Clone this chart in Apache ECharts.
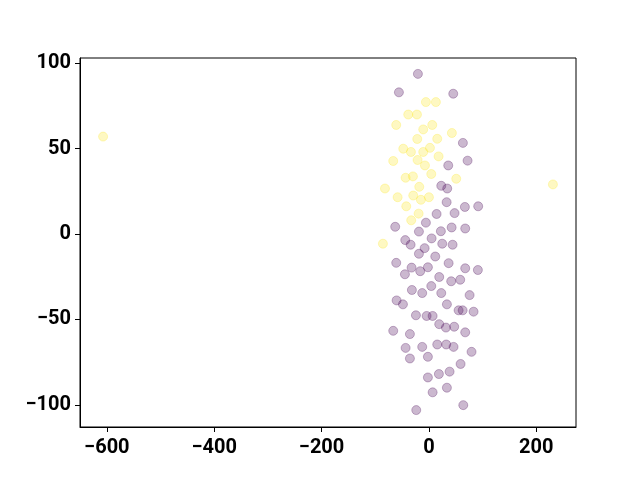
<!DOCTYPE html>
<html>
<head>
<meta charset="utf-8">
<script src="https://cdn.jsdelivr.net/npm/echarts@6/dist/echarts.min.js"></script>
<style>
    html, body {margin: 0; padding: 0; background: #fff;}
    #chart {width: 640px; height: 480px;}
</style>
</head>
<body>
<div id="chart"></div>
<script>
//tick labels
var xTicks = [-600, -400, -200, 0, 200];
var yTicks = [-100, -50, 0, 50, 100];

//points, [x, y]
var yellowPoints = [
    [-607, 57], [231, 29], [-5.6, 77.2], [13, 77.2], [-38.5, 69.9], [-22.3, 69.9],
    [-60.9, 63.8], [-10.6, 61.2], [6.2, 63.8], [42.8, 59.1], [-21.7, 55.6], [15.5, 55.7],
    [-47.8, 49.9], [-33.5, 48], [-10.6, 48], [1.9, 50.4], [-66.5, 42.7], [-21.1, 43.3],
    [18, 45.4], [-7.4, 40.1], [4.4, 35.1], [-43.4, 32.9], [-29.8, 33.7], [50.9, 32.3],
    [-81.9, 26.6], [-18, 27.6], [-58.3, 21.5], [-29.2, 22.5], [-14.9, 20], [0, 21.5],
    [-42.2, 16.2], [-19.2, 11.9], [-33, 8], [-85.7, -5.7]
];

var purplePoints = [
    [-20.5, 93.7], [-55.9, 82.9], [45.3, 82.1], [63.3, 53.3], [72, 42.9], [36, 40.1],
    [23, 28.2], [34.1, 26.6], [33, 18.6], [47.8, 12.2], [67, 15.8], [91.8, 16.2],
    [14.3, 11.7], [-5.6, 6.6], [-62.8, 4.2], [42.3, 3.8], [67.6, 3.2], [-18.6, 1.4],
    [22.3, 1.6], [-44.1, -3.6], [5, -2.6], [-34.1, -6.3], [24.8, -5.7], [44.1, -6.3],
    [-8, -8.3], [-18.6, -11.6], [11.8, -13.2], [-60.9, -16.9], [36.7, -17.1], [-32.3, -19.7],
    [-1.9, -19.5], [-16.2, -21.8], [-44.7, -23.6], [67.6, -20.1], [91.2, -21.1], [19.2, -25.2],
    [41.5, -27.7], [58.3, -26.8], [4.4, -30.5], [-31.7, -32.8], [-12.5, -34.6], [23, -34.6],
    [75.8, -35.8], [-60.2, -38.9], [-48.4, -41.2], [33.5, -41.2], [55.3, -44.7], [62.8, -44.7],
    [83.2, -45.5], [-24.2, -47.6], [-4.3, -48], [6.9, -48], [19.2, -52.8], [31.7, -54.8],
    [47.1, -54.3], [67.6, -57.6], [-66.5, -56.7], [-35.4, -58.6], [-43.4, -66.7], [-12.5, -66.1],
    [15.5, -64.7], [32.2, -64.7], [45.9, -66.1], [79.4, -69], [-35.4, -72.9], [-1.9, -71.9],
    [59, -76.1], [38.5, -80.6], [18.6, -82], [-1.9, -84], [33.5, -90], [6.9, -92.7],
    [64, -100.2], [-23.6, -103.1]
];

var labelStyle = {
    fontFamily: 'Roboto',
    fontWeight: 'bold',
    fontSize: 20,
    color: '#000'
};

function minusSign(v) {
    return String(v).replace('-', '\u2212');
}

function axisCommon(ticks, labelMargin) {
    return {
        type: 'value',
        splitLine: {show: false},
        axisLine: {show: true, onZero: false, lineStyle: {color: '#000', width: 1}},
        axisTick: {
            show: true,
            inside: false,
            length: 5,
            customValues: ticks,
            lineStyle: {color: '#000', width: 1}
        },
        axisLabel: Object.assign({
            margin: labelMargin,
            customValues: ticks,
            formatter: minusSign
        }, labelStyle)
    };
}

var dom = document.getElementById('chart');
var myChart = echarts.init(dom, null, {renderer: 'canvas'});
var option = null;

var xAxis = axisCommon(xTicks, 11);
xAxis.min = -650;
xAxis.max = 274;

var yAxis = axisCommon(yTicks, 9);
yAxis.min = -113;
yAxis.max = 103;
yAxis.axisLabel.padding = [4, 0, 0, 0]; // nudge down a bit

option = {
    animation: false,
    backgroundColor: '#fff',
    grid: {
        left: 80,
        right: 64,
        top: 58,
        bottom: 53,
        show: true,
        borderColor: '#000',
        borderWidth: 1,
        backgroundColor: 'transparent'
    },
    xAxis: xAxis,
    yAxis: yAxis,
    series: [
        {
            name: 'class0',
            type: 'scatter',
            symbolSize: 9,
            data: purplePoints,
            itemStyle: {
                color: 'rgba(68,1,84,0.35)',
                borderColor: 'rgba(68,1,84,0.35)',
                borderWidth: 1
            }
        },
        {
            name: 'class1',
            type: 'scatter',
            symbolSize: 9,
            data: yellowPoints,
            itemStyle: {
                color: 'rgba(253,231,37,0.35)',
                borderColor: 'rgba(253,231,37,0.35)',
                borderWidth: 1
            }
        }
    ]
};

if (option && typeof option === "object") {
    myChart.setOption(option, true);
}
</script>
</body>
</html>
